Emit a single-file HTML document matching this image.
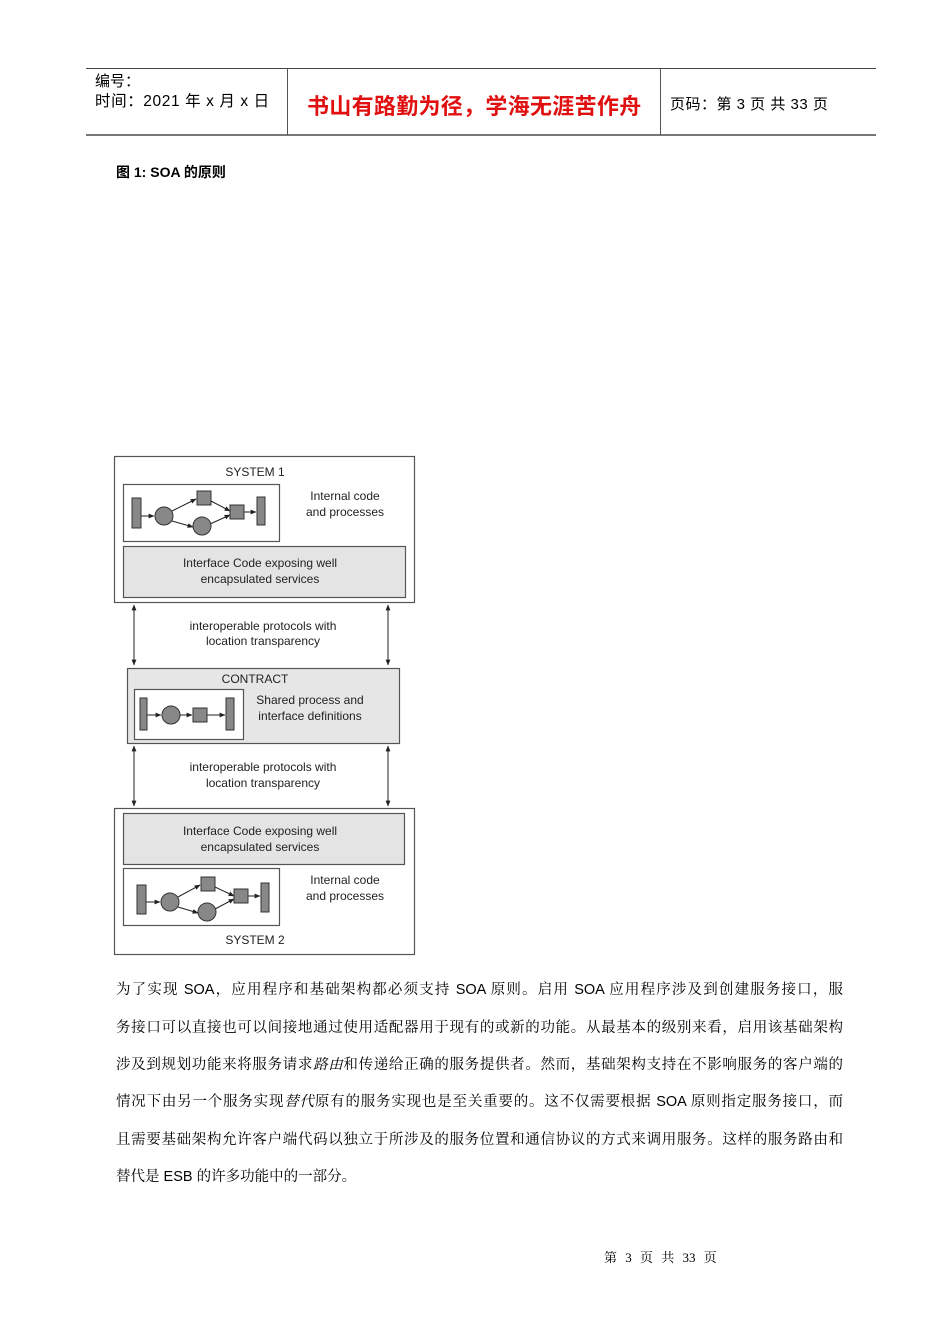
<!DOCTYPE html>
<html><head><meta charset="utf-8">
<style>
body{margin:0;width:950px;height:1344px;background:#fff;position:relative;overflow:hidden;font-family:"Liberation Sans","Noto Sans CJK SC",sans-serif;color:#000}
.a{position:absolute;white-space:nowrap}
.l{position:absolute;left:116px;width:727px;font-size:14.5px;font-family:"Liberation Sans","Noto Serif CJK SC",serif;text-align:justify;text-align-last:justify;white-space:nowrap;line-height:20px}
svg text{font-family:"Liberation Sans",sans-serif;font-size:12px;fill:#222}
</style></head><body>
<div class="a" style="left:86px;top:68px;width:790px;height:1px;background:#444"></div>
<div class="a" style="left:86px;top:134px;width:790px;height:2px;background:#777"></div>
<div class="a" style="left:287px;top:68px;width:1px;height:67px;background:#555"></div>
<div class="a" style="left:660px;top:68px;width:1px;height:67px;background:#555"></div>
<div class="a" style="left:95px;top:70px;font-size:15px">编号：</div>
<div class="a" style="left:95px;top:89px;font-size:15.5px;letter-spacing:0.6px">时间：2021 年 x 月 x 日</div>
<div class="a" style="left:307px;top:89px;font-size:22px;color:#e01010;font-weight:bold;letter-spacing:0.3px">书山有路勤为径，学海无涯苦作舟</div>
<div class="a" style="left:670px;top:93px;font-size:15px;letter-spacing:0.5px">页码：第 3 页 共 33 页</div>
<div class="a" style="left:116px;top:162px;font-size:14px;font-weight:bold">图 1: SOA 的原则</div>

<svg class="a" style="left:0;top:0" width="950" height="1000" viewBox="0 0 950 1000">
<defs><marker id="m" viewBox="0 0 10 10" refX="9" refY="5" markerWidth="6" markerHeight="6" orient="auto-start-reverse"><path d="M0,1 L10,5 L0,9z" fill="#222"/></marker></defs>
<g stroke="#555" stroke-width="1.2">
<rect x="114.5" y="456.5" width="300" height="146" fill="#fff"/>
<rect x="123.5" y="484.5" width="156" height="57" fill="#fff"/>
<rect x="123.5" y="546.5" width="282" height="51" fill="#e4e4e4"/>
<rect x="127.5" y="668.5" width="272" height="75" fill="#e6e6e6"/>
<rect x="134.5" y="689.5" width="109" height="50" fill="#fff"/>
<rect x="114.5" y="808.5" width="300" height="146" fill="#fff"/>
<rect x="123.5" y="813.5" width="281" height="51" fill="#e4e4e4"/>
<rect x="123.5" y="868.5" width="156" height="57" fill="#fff"/>
</g>
<g stroke="#222" stroke-width="1" marker-start="url(#m)" marker-end="url(#m)">
<line x1="134" y1="605" x2="134" y2="665"/><line x1="388" y1="605" x2="388" y2="665"/>
<line x1="134" y1="746" x2="134" y2="806"/><line x1="388" y1="746" x2="388" y2="806"/>
</g>
<g stroke="#222" stroke-width="1" marker-end="url(#m)">
<line x1="141" y1="516" x2="154" y2="516"/><line x1="172" y1="511" x2="196" y2="499"/><line x1="172" y1="521" x2="193" y2="527"/>
<line x1="211" y1="501" x2="230" y2="511"/><line x1="210" y1="524" x2="230" y2="515"/><line x1="244" y1="512" x2="256" y2="512"/>
<line x1="147" y1="715" x2="161" y2="715"/><line x1="180" y1="715" x2="192" y2="715"/><line x1="207" y1="715" x2="225" y2="715"/>
<line x1="146" y1="902" x2="160" y2="902"/><line x1="178" y1="897" x2="200" y2="885"/><line x1="178" y1="907" x2="198" y2="913"/>
<line x1="215" y1="887" x2="234" y2="896"/><line x1="215" y1="909" x2="234" y2="899"/><line x1="248" y1="896" x2="260" y2="896"/>
</g>
<g fill="#888" stroke="#333" stroke-width="1">
<rect x="132" y="498" width="9" height="30"/><circle cx="164" cy="516" r="9"/><rect x="197" y="491" width="14" height="14"/><circle cx="202" cy="526" r="9"/><rect x="230" y="505" width="14" height="14"/><rect x="257" y="497" width="8" height="28"/>
<rect x="140" y="698" width="7" height="32"/><circle cx="171" cy="715" r="9"/><rect x="193" y="708" width="14" height="14"/><rect x="226" y="698" width="8" height="32"/>
<rect x="137" y="885" width="9" height="29"/><circle cx="170" cy="902" r="9"/><rect x="201" y="877" width="14" height="14"/><circle cx="207" cy="912" r="9"/><rect x="234" y="889" width="14" height="14"/><rect x="261" y="883" width="8" height="29"/>
</g>
<g text-anchor="middle">
<text x="255" y="476">SYSTEM 1</text>
<text x="345" y="500">Internal code</text><text x="345" y="516">and processes</text>
<text x="260" y="567">Interface Code exposing well</text><text x="260" y="583">encapsulated services</text>
<text x="263" y="630">interoperable protocols with</text><text x="263" y="645">location transparency</text>
<text x="255" y="683">CONTRACT</text>
<text x="310" y="704">Shared process and</text><text x="310" y="720">interface definitions</text>
<text x="263" y="771">interoperable protocols with</text><text x="263" y="787">location transparency</text>
<text x="260" y="835">Interface Code exposing well</text><text x="260" y="851">encapsulated services</text>
<text x="345" y="884">Internal code</text><text x="345" y="900">and processes</text>
<text x="255" y="944">SYSTEM 2</text>
</g>
</svg>

<div class="l" style="top:980px">为了实现 SOA，应用程序和基础架构都必须支持 SOA 原则。启用 SOA 应用程序涉及到创建服务接口，服</div>
<div class="l" style="top:1018px">务接口可以直接也可以间接地通过使用适配器用于现有的或新的功能。从最基本的级别来看，启用该基础架构</div>
<div class="l" style="top:1055px">涉及到规划功能来将服务请求<i>路由</i>和传递给正确的服务提供者。然而，基础架构支持在不影响服务的客户端的</div>
<div class="l" style="top:1092px">情况下由另一个服务实现<i>替代</i>原有的服务实现也是至关重要的。这不仅需要根据 SOA 原则指定服务接口，而</div>
<div class="l" style="top:1130px">且需要基础架构允许客户端代码以独立于所涉及的服务位置和通信协议的方式来调用服务。这样的服务路由和</div>
<div class="l" style="top:1167px;width:auto;text-align:left;text-align-last:left">替代是 ESB 的许多功能中的一部分。</div>
<div class="a" style="left:604px;top:1247px;font-size:13px;font-family:'Liberation Serif','Noto Serif CJK SC',serif;word-spacing:5px">第 3 页 共 33 页</div>
</body></html>
